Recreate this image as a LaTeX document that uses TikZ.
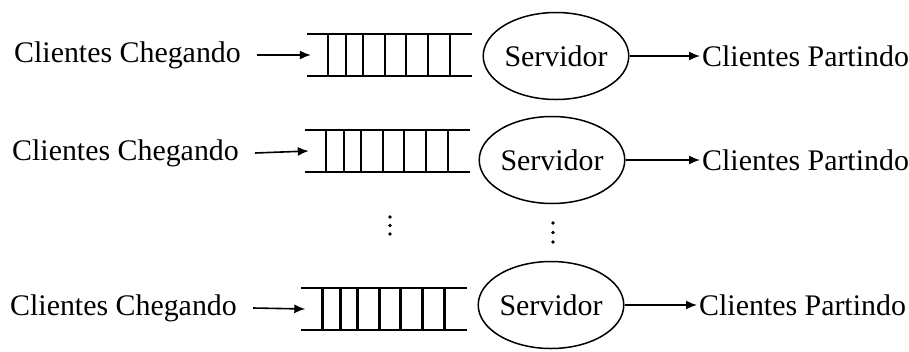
\documentclass[tikz,border=0pt]{standalone}
\usepackage{fontspec}
\setmainfont{Liberation Serif}
\usetikzlibrary{shapes.geometric,arrows.meta}
\tikzset{
  rotulo/.style={font=\fontsize{30}{33}\selectfont,inner sep=2bp},
  fila/.style={minimum width=165bp,minimum height=42bp,inner sep=0pt},
  servidor/.style={draw,ellipse,line width=1.5bp,minimum width=138bp,minimum height=87bp,
    inner sep=0pt,font=\fontsize{30}{33}\selectfont},
  seta/.style={-{Latex[length=11bp,width=9bp]},line width=1.6bp}
}
\begin{document}
\begin{tikzpicture}[x=1bp,y=-1bp]
\useasboundingbox (0,0) rectangle (909,351);
\node[rotulo,anchor=west] (c1) at (12,55) {Clientes Chegando};
\node[rotulo,anchor=west] (c2) at (10,153) {Clientes Chegando};
\node[rotulo,anchor=west] (c3) at (8,308) {Clientes Chegando};
\node[fila] (q1) at (389.5,55) {};
\node[fila] (q2) at (387.5,151) {};
\node[fila] (q3) at (384,309) {};
\node[servidor] (s1) at (556,56) {Servidor};
\node[servidor] (s2) at (552,160) {Servidor};
\node[servidor] (s3) at (551,305) {Servidor};
\node[rotulo,anchor=west] (p1) at (700,56) {Clientes Partindo};
\node[rotulo,anchor=west] (p2) at (700,160) {Clientes Partindo};
\node[rotulo,anchor=west] (p3) at (697,305) {Clientes Partindo};
% filas de espera
\foreach \q in {q1,q2,q3} {
  \draw[line width=2.5bp] (\q.north west) -- (\q.north east);
  \draw[line width=2.5bp] (\q.south west) -- (\q.south east);
  \foreach \x in {21,39,56,78,99,121,143}
    \draw[line width=2.5bp] ([xshift=\x bp]\q.north west) -- ([xshift=\x bp]\q.south west);
}
\draw[seta] ([xshift=14bp]c1.east) -- ([xshift=4bp]q1.west);
\draw[seta] ([xshift=14bp]c2.east) -- ([xshift=4bp]q2.west);
\draw[seta] ([xshift=14bp]c3.east) -- ([xshift=4bp]q3.west);
\draw[seta] (s1.east) -- (p1.west);
\draw[seta] (s2.east) -- (p2.west);
\draw[seta] (s3.east) -- (p3.west);
% reticencias
\foreach \y in {217,225.5,234} \fill (390,\y) circle (1.8bp);
\foreach \y in {223,232.5,242} \fill (553,\y) circle (1.8bp);
\end{tikzpicture}
\end{document}
